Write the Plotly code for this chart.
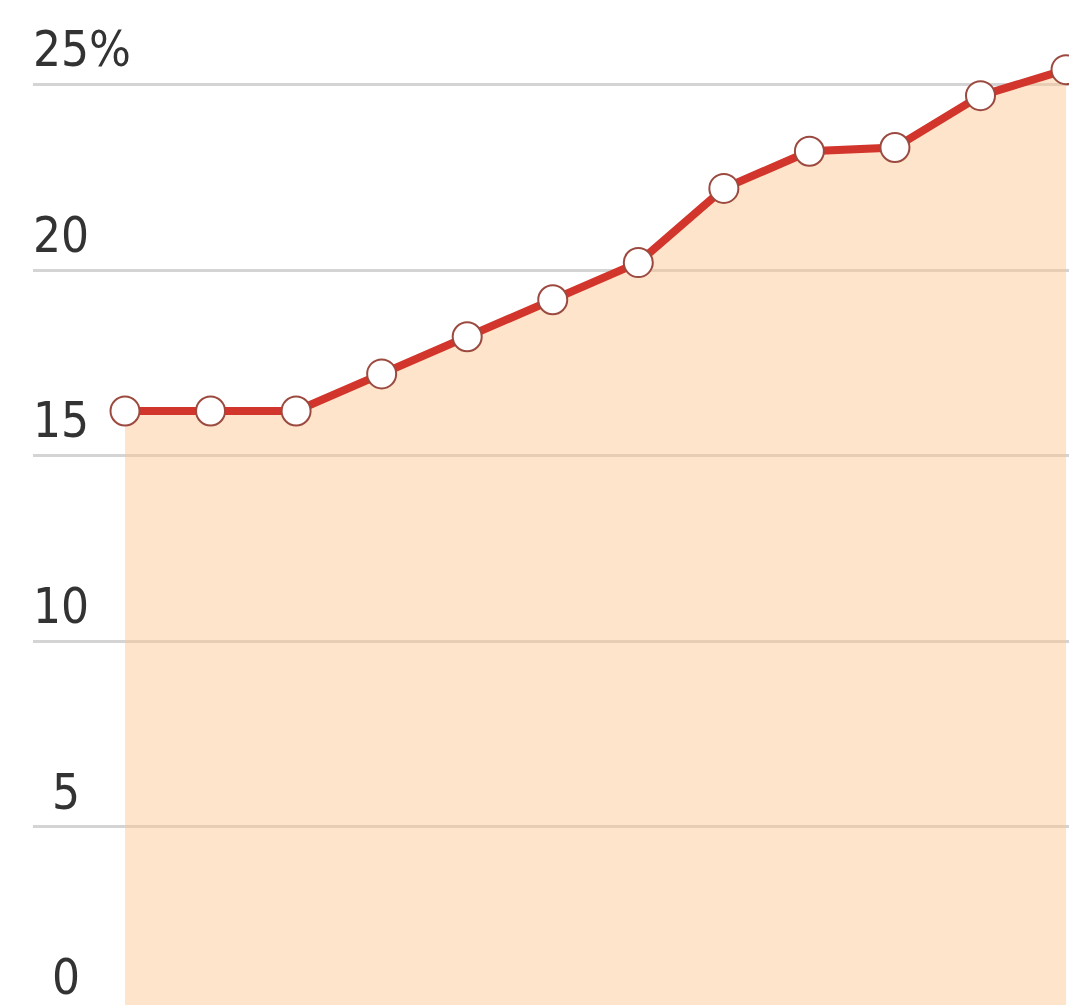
import plotly.graph_objects as go

# Data
periods = list(range(12))
share = [16.2, 16.2, 16.2, 17.2, 18.2, 19.2, 20.2, 22.2, 23.2, 23.3, 24.7, 25.4]
tick_vals = [0, 5, 10, 15, 20, 25]
tick_text = ["0", "5", "10", "15", "20", "25%"]

W, H = 1069, 1005
L = 33
x0_px, dx_px = 125, 85.55
y0_px, dy_px = 1012, 37.1

FONT = "Liberation Sans Narrow, DejaVu Sans Condensed, Arial Narrow, Liberation Sans, sans-serif"

fig = go.Figure()
fig.add_trace(go.Scatter(
    x=periods, y=share, mode="lines+markers",
    fill="tozeroy", fillcolor="rgba(250,198,146,0.48)",
    line=dict(color="#d2352b", width=8),
    marker=dict(size=29, color="white", line=dict(color="#9c4a3f", width=2)),
    hoverinfo="skip",
))

annotations = []
for v, t in zip(tick_vals, tick_text):
    if t.endswith("%") or len(t) >= 2:
        ax, anchor = 0, "left"
    else:
        ax, anchor = (82 - L) / (W - L), "right"
    grid_px = y0_px - v * dy_px
    annotations.append(dict(
        x=ax, xref="paper", y=1 - grid_px / H, yref="paper", text=t, showarrow=False,
        xanchor=anchor, yanchor="bottom", yshift=4, xshift=-2 if anchor == "left" else 0,
        font=dict(family=FONT, size=49, color="#333333"),
    ))

fig.update_layout(
    width=W, height=H,
    margin=dict(l=L, r=0, t=0, b=0),
    paper_bgcolor="white", plot_bgcolor="white",
    showlegend=False,
    annotations=annotations,
    xaxis=dict(range=[-(x0_px - L) / dx_px, (W - x0_px) / dx_px],
               showgrid=False, zeroline=False, showticklabels=False, ticks=""),
    yaxis=dict(range=[(y0_px - H) / dy_px, y0_px / dy_px],
               tickvals=tick_vals, showticklabels=False, ticks="",
               showgrid=True, gridcolor="#d4d4d4", gridwidth=2.5, zeroline=False),
)

fig.write_html(
    "out.html",
    config={"displayModeBar": False},
    post_script="document.body.style.margin='0';document.body.style.overflow='hidden';",
)
